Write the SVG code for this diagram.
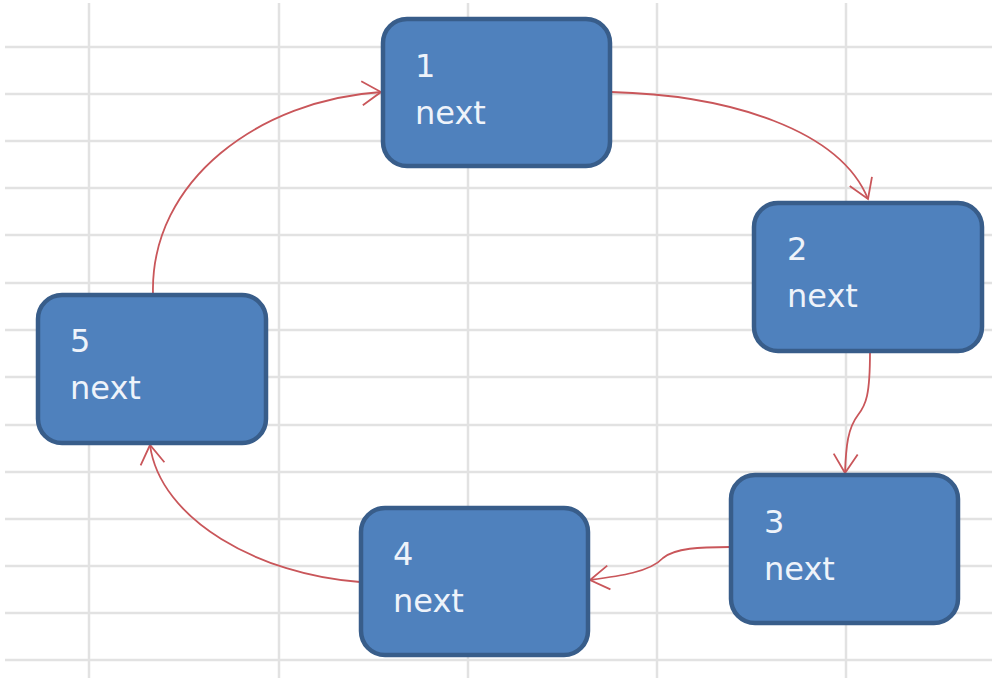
<svg xmlns="http://www.w3.org/2000/svg" width="1004" height="678" viewBox="0 0 1004 678">
<style>
.grid line{stroke:#e2e2e2;stroke-width:2.5}
.node rect{fill:#4f81bd;stroke:#385d8a;stroke-width:4.5}
.node text{fill:#eef3fa;font-family:"DejaVu Sans",sans-serif;font-size:32px}
.edge{fill:none;stroke:#c9565a;stroke-width:1.8;marker-end:url(#arr)}
</style>
<defs>
<marker id="arr" markerUnits="userSpaceOnUse" markerWidth="26" markerHeight="30" refX="20" refY="13" orient="auto">
<path d="M1 1 L20 13 L1 25" fill="none" stroke="#c9565a" stroke-width="1.8"/>
</marker>
</defs>
<rect width="1004" height="678" fill="#ffffff"/>
<g class="grid">
<line x1="5" y1="47" x2="992" y2="47"/>
<line x1="5" y1="94" x2="992" y2="94"/>
<line x1="5" y1="141" x2="992" y2="141"/>
<line x1="5" y1="188" x2="992" y2="188"/>
<line x1="5" y1="235" x2="992" y2="235"/>
<line x1="5" y1="283" x2="992" y2="283"/>
<line x1="5" y1="330" x2="992" y2="330"/>
<line x1="5" y1="377" x2="992" y2="377"/>
<line x1="5" y1="425" x2="992" y2="425"/>
<line x1="5" y1="472" x2="992" y2="472"/>
<line x1="5" y1="519" x2="992" y2="519"/>
<line x1="5" y1="566" x2="992" y2="566"/>
<line x1="5" y1="613" x2="992" y2="613"/>
<line x1="5" y1="660" x2="992" y2="660"/>
<line x1="89" y1="3" x2="89" y2="678"/>
<line x1="279" y1="3" x2="279" y2="678"/>
<line x1="468" y1="3" x2="468" y2="678"/>
<line x1="657" y1="3" x2="657" y2="678"/>
<line x1="846" y1="3" x2="846" y2="678"/>
</g>
<g id="connectors">
<path class="edge" d="M611 92 C730 95 840 130 868 199"/>
<path class="edge" d="M870 352 C870 395 866 405 858 415 C848 428 846 445 845 473"/>
<path class="edge" d="M730 547 C700 547 675 548 663 558 C650 572 620 576 590 580"/>
<path class="edge" d="M360 582 C260 575 160 520 150 445"/>
<path class="edge" d="M153 294 C150 180 260 100 381 92"/>
</g>
<g id="node1" class="node">
<rect x="383" y="19" width="227" height="147" rx="24"/>
<text x="415" y="77">1</text>
<text x="415" y="124">next</text>
</g>
<g id="node2" class="node">
<rect x="754" y="203" width="228" height="148" rx="24"/>
<text x="787" y="260">2</text>
<text x="787" y="307">next</text>
</g>
<g id="node3" class="node">
<rect x="731" y="475" width="227" height="148" rx="24"/>
<text x="764" y="533">3</text>
<text x="764" y="580">next</text>
</g>
<g id="node4" class="node">
<rect x="361" y="508" width="227" height="147" rx="24"/>
<text x="393" y="565">4</text>
<text x="393" y="612">next</text>
</g>
<g id="node5" class="node">
<rect x="38" y="295" width="228" height="148" rx="24"/>
<text x="70" y="352">5</text>
<text x="70" y="399">next</text>
</g>
</svg>
